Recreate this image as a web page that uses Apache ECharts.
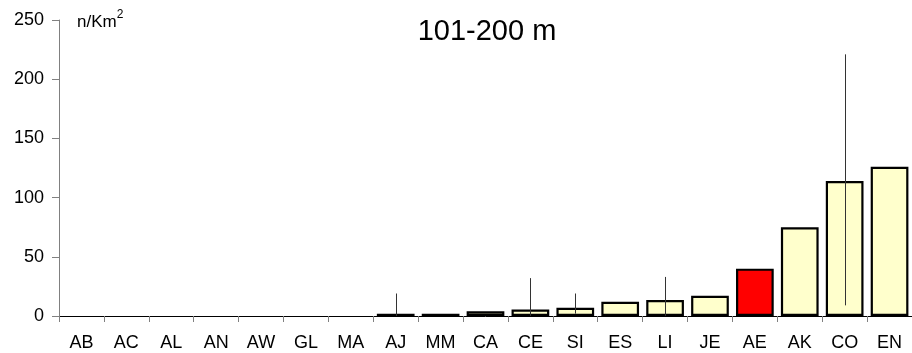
<!DOCTYPE html>
<html>
<head>
<meta charset="utf-8">
<script src="https://cdn.jsdelivr.net/npm/echarts@6/dist/echarts.min.js"></script>
<style>
  html, body { margin: 0; padding: 0; background: #fff; }
  #chart { width: 912px; height: 353px; }
</style>
</head>
<body>
<div id="chart"></div>
<script>
// Site codes along the x axis
const categories = ['AB','AC','AL','AN','AW','GL','MA','AJ','MM','CA','CE','SI','ES','LI','JE','AE','AK','CO','EN'];
// Mean density (n/Km2) per site, 101-200 m depth stratum
const densities = [0, 0, 0, 0, 0, 0, 0, 2, 2, 4, 5.5, 7, 12, 13.5, 17, 40, 75, 114, 126];
// Error bar extents (null where no bar is drawn)
const errLow  = [null, null, null, null, null, null, null, 0, null, null, 0, 2, null, 0, null, null, null, 9, null];
const errHigh = [null, null, null, null, null, null, null, 19, null, null, 32, 19, null, 33, null, null, null, 221, null];
// Y axis ticks
const yTicks = [0, 50, 100, 150, 200, 250];
// Highlighted site
const highlight = 'AE';

const chart = echarts.init(document.getElementById('chart'), null, { renderer: 'canvas' });

const font = 'Liberation Sans, Arial, sans-serif';

const barData = densities.map((v, i) => ({
  value: v,
  itemStyle: {
    color: categories[i] === highlight ? '#FF0000' : '#FFFFCC',
    borderWidth: v === 0 ? 0 : 2.2
  }
}));

const errData = categories.map((c, i) => [i, errLow[i], errHigh[i]]).filter(d => d[1] !== null);

chart.setOption({
  animation: false,
  backgroundColor: '#ffffff',
  title: {
    text: '101-200 m',
    left: 482, top: 12,
    textAlign: 'center',
    textStyle: { fontFamily: font, fontSize: 29, fontWeight: 'normal', color: '#000' }
  },
  graphic: [{
    type: 'text',
    left: 77, top: 9,
    style: {
      text: '{a|n/Km}{b|2}',
      rich: {
        a: { fontFamily: font, fontSize: 17, fill: '#000', verticalAlign: 'bottom' },
        b: { fontFamily: font, fontSize: 12, fill: '#000', padding: [0, 0, 10, 0] }
      }
    }
  }],
  grid: { left: 59, top: 20, width: 855, height: 296, containLabel: false },
  xAxis: {
    type: 'category',
    data: categories,
    axisLine: { lineStyle: { color: '#000', width: 1 } },
    axisTick: { show: true, length: 6, alignWithLabel: false, lineStyle: { color: '#808080' } },
    axisLabel: { fontFamily: font, fontSize: 18, color: '#000', margin: 18, interval: 0 },
    splitLine: { show: false }
  },
  yAxis: {
    type: 'value',
    min: yTicks[0], max: yTicks[yTicks.length - 1], interval: 50,
    axisLine: { show: true, lineStyle: { color: '#808080', width: 1 } },
    axisTick: { show: true, length: 7, lineStyle: { color: '#808080' } },
    axisLabel: { fontFamily: font, fontSize: 18, color: '#000', margin: 15 },
    splitLine: { show: false }
  },
  series: [
    {
      type: 'bar',
      data: barData,
      barCategoryGap: '16%',
      itemStyle: { borderColor: '#000', borderWidth: 2.2 },
      z: 2
    },
    {
      type: 'custom',
      data: errData,
      z: 5,
      renderItem: function (params, api) {
        const idx = api.value(0);
        const p1 = api.coord([idx, api.value(1)]);
        const p2 = api.coord([idx, api.value(2)]);
        return {
          type: 'line',
          shape: { x1: Math.round(p1[0]) + 0.5, y1: p1[1], x2: Math.round(p2[0]) + 0.5, y2: p2[1] },
          style: { stroke: '#333', lineWidth: 1 }
        };
      }
    }
  ]
});
</script>
</body>
</html>
